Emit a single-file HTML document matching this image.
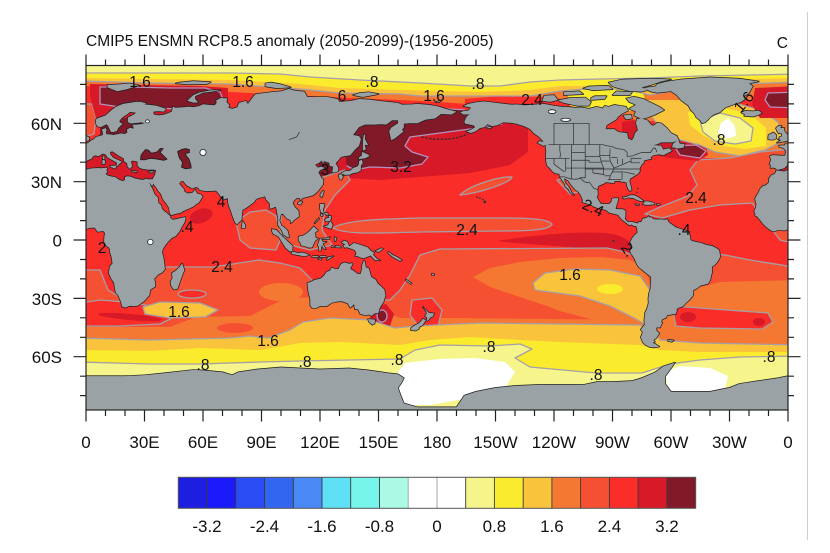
<!DOCTYPE html>
<html><head><meta charset="utf-8"><style>
html,body{margin:0;padding:0;background:#fff;width:830px;height:553px;overflow:hidden}
svg{display:block}
text{font-family:"Liberation Sans",Arial,sans-serif;fill:#111}
.ml{font-size:15.5px;text-anchor:middle}
.ax{font-size:17px}
.r{fill:#fa2d28}.or{fill:#f55032}.o{fill:#f57832}.yo{fill:#fac33c}.y{fill:#faeb2d}.ly{fill:#f5f58c}.dr{fill:#d71928}.dd{fill:#821928}.w{fill:#fff}
.ct{stroke:#a69ea6;stroke-width:1.3;stroke-linejoin:round}
.cl{stroke:#b592bd;stroke-width:1.3;stroke-linejoin:round}
</style></head><body>
<svg width="830" height="553" viewBox="0 0 830 553" xmlns="http://www.w3.org/2000/svg">
<defs>
<clipPath id="mc"><rect x="86" y="65.5" width="702" height="344.5"/></clipPath>
<g id="E">
<polygon points="34.2,31.3 35.5,33.8 35.9,36 34,36.2 32,36.1 29,36.5 27.3,37.2 26.3,38.5 26.5,40.2 24,40.8 23,40.3 23.8,38 22.5,36.5 21.3,37.8 21,39.5 19.5,40.5 19.4,41.9 16.5,43.5 13.7,45.5 12.3,45.3 12.5,44 14,42.3 16,41.4 18.4,40.2 17,39 16,38 15.6,38.3 16,39.5 15,40.2 13,41.3 11,42.5 10.2,43.9 8.5,44.4 6.5,43.1 4.5,43.5 3.1,42.5 3.2,41.9 0.8,41 -0.3,39.5 -0.5,38.3 -2,36.8 -5.5,36 -6.3,36.8 -7.5,37.2 -9,37 -8.8,38.5 -9.5,39 -8.7,41.2 -9.3,43 -8,43.7 -3.8,43.4 -1.5,43.4 -1.2,44.6 -1.2,46 -2.2,47.2 -4.5,47.9 -4.6,48.6 -1.5,48.7 -1.3,49.7 0.2,49.5 1.5,50.2 2.5,51.1 4.2,51.9 5,53 7,53.5 8.6,54 8.6,55.5 8.1,56.8 10,57.6 10.6,56.5 10.2,55.5 10.5,54.4 12.5,54.3 14,54 18,54.8 19.8,54.5 21.2,55.2 21,56.8 22.6,57.7 24.3,57.2 24.3,58.5 23.5,59.2 28,59.5 30,60 28.5,60.5 23,59.9 21.4,60.6 21.5,63 25,64.8 25.5,65.5 22.5,65.8 21,64.5 19,63.3 17.3,61.5 17.2,60.6 18.8,59.8 16.5,57.5 15.9,56.1 14.3,55.5 12.8,55.5 11.8,57.6 11.2,58.9 10.5,59.5 9.5,59 7.5,58 5.8,58.5 5.2,59.6 5,61 5.3,62.3 7,63 10,64 12,65.8 14,67.5 15.5,68.5 17,69.2 19,70 21,70.3 23.5,70.7 25.8,71.1 28,71 31,70.3 30,69.7 33,69.4 36,69.1 41,67.5 40,66 37,66.2 34.5,66 34.8,64.5 37.5,64.1 40.5,64.6 44,66 44.5,68.5 46,68 53,68.5 55,68.3 58,68.8 60,69.8 63,69.5 66,69.3 67,70.5 66.7,71.7 69,73 72.5,72.8 72,71 73.5,69.5 73,68 75,67.5 77.5,68.2 78.5,70.5 82,71.5 83,70 86,74 87,75 95,76 100,76.5 104,77.7 107,76.8 112,76.3 113.5,73.5 118,73.5 124,73.5 129,72.5 130,71 136,71.5 140,72.5 146,72.2 150,71.5 155,71 160,70.5 162,69.6 167,69.7 170,70 176,69.5 180,68.8 185,67.3 190,66 187.5,64.5 182,64.8 179,62.5 174,61.8 170,60 166,60 163,59.8 163,58 162,56.5 163,56 160,53.5 158,52 156.5,51.3 156,53.5 155.5,56 156.5,57.8 160,60 160,61.5 157,61.6 154,59.3 151,59.5 148,59.3 143,59.3 140,58 137,54 140,53.5 141,52 140.5,50 140,48.3 138,46.5 135.5,43.5 132,43 130.5,42.5 129.5,41 128,39.5 129.4,37 129.3,35.3 127,34.6 126.3,35 126.7,37.7 125,38 124.7,39.7 122,40.5 121.6,39 121,40.8 119,39.3 118,39.1 117.6,38.5 119,37.2 120.6,37.8 122.5,37 120,35.8 119.2,34.8 120.6,32.2 121.8,31 121.5,28.5 120,26.5 118.5,24.6 116.5,23 114,22.3 111,21.5 110,20.3 109.7,21.5 108,21.5 106.5,20 106,19 107,17 109,15 109.2,12 107,10.5 105,8.6 104.8,10.3 103,11 102,12.3 100.9,13.5 100,13.2 99.2,10 100.4,7.2 101.3,6.8 103.4,4.8 104.2,1.4 103.5,1.3 101.2,2.8 100.3,5 98.3,8 98.6,10.5 97.8,15.5 97.3,17 94.3,16 94.2,18.8 92.3,20.8 91.8,22.4 90.5,22 88.5,21.6 86.9,20.6 86.5,19.8 84.5,18.2 82.2,16.5 80.3,15.4 80,13 79.8,10.3 78.2,8.9 77.5,8 76.5,8.9 75.3,11.8 74.4,14.6 73.3,17.5 72.8,19.3 72.7,21.5 70.5,20.8 69,22.4 68.2,23.7 67.2,24.8 66.6,25.4 64.5,25.2 61.5,25.1 58.5,25.6 57.3,27 56.3,27.2 54.7,26.5 52,27.8 50.8,29 50,30.2 48.8,30.3 48.2,29.5 47.8,29 48.6,28 49.5,27 50.2,26.2 50.6,24.8 51.6,24.3 52,23.9 54.6,24.3 56,26 56.4,24.9 57.2,23.8 58.8,23.5 59.8,22.3 58.6,20.4 57.8,19.1 56.6,18.5 55.3,17.3 52.2,15.9 49.6,14.7 48.7,14 45.6,13.3 43.5,12.7 42.8,14.6 42.6,16.4 41.2,18.7 39.8,20.4 39.1,21.7 38.5,23.6 37.2,25 36,27 35,28.1 34.6,29.3 34.9,29.5"/>
<polygon points="-6,35.8 -2,35.2 1,36.5 3,36.8 6,37 8,36.9 10,37.2 11,36.8 10.5,36 11,35 10,34 11,33.2 12.5,32.8 15,32.3 17,31 19,30.3 20,31 20,32.3 21,32.8 23,32.6 25,31.7 29,30.9 31,31.5 32.3,31.2 34.2,31.3 34.9,29.5 34,27.8 33.5,28 32.5,29.9 33,28 34,26.5 35,24 35.6,23 36.8,22 37.2,19 38.5,18 39,16 40,15 41.5,13.8 43.3,12.2 43.2,11.5 44.5,10.4 46,10.7 48,11.2 51,11.8 51,10.5 50.5,9 49,6.5 48,4.5 46,2 44,1 42,-1 40.8,-2.5 39.5,-4.5 39,-6.5 39.5,-8 40,-10.5 40.5,-15 39,-16.8 37,-17.8 35,-20 35.5,-22 35.5,-24 33,-25.5 32.8,-26.5 32.5,-28.5 31,-30 30,-31.3 28,-32.8 26.5,-33.8 25,-34 22.5,-33.9 20,-34.8 18.5,-34.2 18.2,-33 18,-32 17.2,-30 16.5,-28.5 15.2,-27 14.5,-23 14.4,-22 13,-20 11.8,-17.3 11.8,-16 12.3,-13.5 13.6,-12 13.2,-9.5 13,-8.5 12.2,-6 12.3,-5 11.8,-4 10.5,-3 9.3,-1.3 9.3,0.3 9.5,2.5 9.8,3.5 9,4.5 8.5,4.5 7,4.4 6,4.2 5,5.5 4.5,6.3 2.5,6.3 1,6 -0.5,5.3 -2,4.8 -3.5,5.1 -5,5.1 -7.5,4.4 -9,5 -10.5,6.2 -11.5,7 -13,8.5 -13.7,9.5 -15,11 -15.5,11.8 -16.8,12.5 -16.8,13.7 -17.4,14.7 -16.5,16.5 -16.2,18.5 -16.5,19.5 -16.9,21.3 -16,23 -15,24.5 -14.5,26 -13,27.7 -11.5,28.1 -10,29.3 -9.7,30.5 -9.8,31.5 -8.5,33.3 -6.8,34 -6.2,35"/>
<polygon points="-5.7,50 1.5,51.2 1.7,52.7 0.3,53.4 -0.5,54.5 -1.6,55.6 -2,57 -1.8,57.6 -4,57.6 -3.2,58.6 -5,58.6 -6.2,57.5 -5.6,56 -4.8,54.8 -3.3,54.9 -3,53.4 -4.5,52.8 -4.2,51.6 -5.2,51.7 -3.5,51.3"/>
<polygon points="-6,52.2 -6,54 -7.5,55.3 -10,54 -10.2,51.8 -8,51.5"/>
<polygon points="-24,65.5 -22,66.4 -18,66.2 -15,66.5 -13.5,65.2 -15,64.3 -18,63.4 -22.5,63.8 -22,64.5"/>
<polygon points="12.4,38.1 15.6,38.3 15.1,36.7 12.5,37.6"/>
<polygon points="8.4,41.2 9.8,40.9 9.6,39.1 8.4,39"/>
<polygon points="8.6,43 9.5,42.9 9.4,41.4 8.6,41.7"/>
<polygon points="23.5,35.6 26.3,35.3 26,34.9 23.6,35.2"/>
<polygon points="32.3,35.1 34.6,35.6 33.9,34.7 32.4,34.7"/>
<polygon points="49.3,-12 50.5,-15.5 49.8,-17 48,-22 47,-25 45,-25.5 43.7,-23.5 43.3,-21.5 44.4,-19.5 44,-17 46,-15.8 48,-13.8"/>
</g>
<g id="L">
<use href="#E"/>
<use href="#E" x="360"/>
<polygon points="11,78.5 16,76.5 21,77.5 27,79.5 22,80.5 17,80 11,79.7"/>
<polygon points="46,80.5 52,80 62,80.2 64,81.2 55,81.7 48,81"/>
<polygon points="52,71.5 55,70.6 57.5,70.7 56,72.5 56,74 60,75.7 66,76.5 69,77 64,77 58,75.8 55,74.5 53,72.7"/>
<polygon points="92,79 98,78 105,78.5 100,80 95,81 92,80.5"/>
<polygon points="137,74.5 142,73.5 150,75 145,76 140,75.5"/>
<polygon points="179,71 182,71.5 181,70.8"/>
<polygon points="79.8,6 80.3,9.8 81.8,7.5 81.5,6.2"/>
<polygon points="130.9,34 132,33.8 135,33.5 136.8,34.3 139,34.7 140.9,35.7 141,38.3 142,39.6 141.4,41.4 140,40.5 140,39.3 139.5,38 137,37 136.7,36.8 135.5,35.6 133,35.5 131,34.4"/>
<polygon points="140,41.5 141.2,41.8 143.3,42 145.5,43.3 144.5,44 141.6,45.4 141.4,43.4 140,42.5"/>
<polygon points="129.7,33.6 131,33.9 131.8,32.5 131,31 130.2,31.2 129.7,32.7"/>
<polygon points="132.3,33.2 134.7,33.8 134.2,34.3 132.7,33.9"/>
<polygon points="142,46 143.5,46.5 143,49 144.7,48.8 143,52 143.2,54 142.5,54.3 142,51.5 142,48.5"/>
<polygon points="120.2,22.5 121,22 122,25 121.5,25.3 120.2,23.5"/>
<polygon points="108.6,19 110,20 111,19.7 110,18.2 108.7,18.5"/>
<polygon points="120,18.5 122.3,18.5 122,17 121.5,15.5 122,14 124,13.8 124,12.6 122.5,13.5 120.6,14.2 120,16"/>
<polygon points="122,7 124,7.5 125.3,9.8 126.5,8 126,6.3 125.5,5.7 124,6.3"/>
<polygon points="122.5,10.5 124,11.5 125.8,11 125,9.8 123,9.5"/>
<polygon points="117.2,8.5 119.5,10.8 119.4,11.3 117.4,9"/>
<polygon points="120.4,13.5 121.5,13 121.2,12.2 120.3,12.6"/>
<polygon points="124.3,12.5 125.7,12.3 125.5,11 124.8,11.3"/>
<polygon points="109,1.5 109.6,2 111,2.1 113,3.2 115,5 116.8,7 117.7,6 119,5 118.5,4.5 117.5,4 117.8,1 119,0.9 117.5,-0.5 116.5,-2.5 116,-3.8 114.5,-4 111.5,-3 110.2,-2.8 110,-1.5 109,-0.3"/>
<polygon points="95.2,5.6 97.5,5.2 100.4,2.2 103.8,-1 106,-3.1 105.8,-5.8 104.5,-5.9 102.3,-4 100.3,-0.8 98.7,1.8 95.9,3.2 95.3,4.9"/>
<polygon points="105.2,-6.8 106,-5.9 108.6,-6.7 111,-6.4 112.6,-6.9 114.6,-7.7 112,-8.4 108.7,-7.8 106.5,-7.4"/>
<polygon points="116,-8.3 119,-8.2 119,-8.8 116,-8.9"/>
<polygon points="120,-8.3 123,-8.2 123,-8.8 120,-8.8"/>
<polygon points="119,-9.5 120.8,-9.6 120.5,-10.2 119,-9.8"/>
<polygon points="124,-9 127,-8.3 125,-9.5 123.5,-10.3"/>
<polygon points="119.5,-5.5 120.4,-5.5 120.9,-2.6 122,-4.5 123,-4.7 121.3,-1.9 123.3,-0.9 121.5,-1 120.6,0.5 124.5,0.4 125.2,1.5 123.5,0.9 120,0.7 119.8,0 118.8,-2.7 119.5,-3.5"/>
<polygon points="128,-3 130.5,-3.3 130.8,-3.9 128,-3.7"/>
<polygon points="126,-3.1 127.2,-3.3 127,-3.8 126,-3.6"/>
<polygon points="127.5,1.5 128.5,1 128,-0.5 127.5,-0.8"/>
<polygon points="131,-1.2 132.5,-0.4 134,-0.9 135,-3.3 137.5,-1.5 141,-2.6 144.5,-3.8 146,-5.5 147.8,-6.5 147.2,-7.6 149,-9.5 150.8,-10.5 148,-10.2 146,-8 143.5,-9 142.5,-9.4 141,-9.1 139,-8.2 138,-8.4 138.7,-6.8 137.8,-5.2 134.5,-4 133.5,-3.7 132.8,-4.1 131.9,-2.8 133,-2.3 131.3,-1.5"/>
<polygon points="148.3,-5.5 150,-5 151.5,-4.2 152.3,-4.5 151,-5.5 150,-6.2"/>
<polygon points="155,-6 157,-7.5 160,-9 162,-10.5 161,-10.8 157,-8.5 155,-6.8"/>
<polygon points="164,-20.2 167,-22.3 166.5,-22.6 164,-20.8"/>
<polygon points="177.3,-17.3 178.5,-17.4 178.5,-18.2 177.3,-18.1"/>
<polygon points="113.5,-22 114,-26.5 115,-30.5 115,-33.6 116,-35 118,-35 120,-34 123.5,-34 126,-32.3 129,-31.6 131.2,-31.5 134.2,-32.6 135.5,-34.8 136,-34.5 137.5,-33 137.8,-35.5 139.5,-35.7 140.6,-38 143.5,-38.8 145,-38.3 146.4,-39.1 148,-37.8 150,-37.5 150.5,-35.3 151.3,-33.8 152.5,-32 153.6,-28.5 153,-25.5 152.5,-25 151,-23.5 149.5,-22.3 148.7,-20.5 146.3,-19 145.3,-15.5 145,-14.5 143.5,-14 143,-11 142.5,-10.7 141.6,-12.8 141.5,-15 140.8,-17.4 139.3,-17.4 137.7,-16.2 135.8,-15 135.5,-14.5 136.8,-12.3 136.5,-11.9 135,-12.2 132.6,-11.5 131,-12.2 130.2,-13.2 129.5,-14.9 128,-15 126,-14.2 125,-15.8 123.3,-16.4 122.2,-18.1 120.5,-19.7 117,-20.6 114.7,-21.8"/>
<polygon points="144.6,-40.7 148.3,-40.9 148,-43 146.8,-43.6 145.2,-42.2"/>
<polygon points="172.7,-34.4 174.6,-36.2 175.9,-37.5 178.5,-37.7 177.9,-39.3 176.9,-39.6 175.2,-41.6 174.6,-41.3 175,-39.9 173.8,-39.2 174.6,-38.1 174.6,-36.9"/>
<polygon points="172.8,-40.5 174.3,-41.2 173.1,-43 172.7,-43.8 171.2,-44.5 170.5,-45.9 169,-46.6 166.5,-46.2 166.8,-45.2 168.3,-44 170.5,-43 172,-41.5"/>
<polygon points="192,65.6 193.5,66.3 196,66.5 197.5,68 193.5,68.9 196,70 200,70.8 204,71.3 208,70.8 212,70.3 218,69.6 221,69.7 225,69.3 228,69.5 232,69.8 235,70 240,69 244,68.5 246,68.5 251,68 254,68.2 258,67.5 262,68.5 265,67.7 266,69 268,68.5 271,69.5 274,69 277,68.5 278,66.5 275,65 273,63.5 272,62 267,59 266.5,57 268,57 271,57 273,55.5 277.5,55 278,52.2 280,51.3 281,53 281.5,55 283,56.5 282.5,58.5 282,60 282.5,62.3 285,62.5 288,61.5 290,59 291,58.8 293,60.3 295,60 298,57.5 300,55 303,53.5 304,51.5 301,50.2 295,50.2 293,49.2 291,48.8 295,48.5 296,46.5 299,47.2 300.5,45.8 296,43.5 294,44 291,43.6 289.5,42.5 290,41.7 286.5,41 286,40.5 286,39.5 285,38.8 284,37 284,35.2 283,34 281,32.7 279,31.5 278.7,30 279.5,27.3 279.8,25.5 279,25.2 278.2,26 277.5,27.5 277.2,29.5 275.8,30 275,29.8 273.5,30.4 271,30.2 270.7,29.1 270,29.3 268.5,29.5 266.5,29.7 265.5,28.9 262.8,27.8 262.3,26 262.5,23.5 262,22 263,20.2 264,18.6 266,18.5 268.5,18.6 269.5,19.8 269.7,21.2 270.7,21.5 273,21.5 272.6,19.5 272.2,18.3 271.6,16 273,15.9 275.5,15.8 276.7,15 276.6,12 276.3,11 277,10 277.9,9.3 279.2,9.4 280.5,9.2 282,8.8 283,8.5 283.5,9.3 284.5,9.2 285,9.7 285.5,11 287,11.3 288.3,11.8 288.5,12.4 289,11.6 290,11.7 291,10.7 293,10.6 295,10.6 297,10.5 298.2,10.7 298.5,9.5 299.5,8.6 300.5,8 302.5,6.5 305,5.7 307,5 308.5,4.5 309,4 309.8,2 310,0 311,-0.5 313,-1 315.5,-1.5 318,-2.5 321,-3 323,-4 324.7,-5.2 325,-7 325.3,-8.5 324.8,-9.5 324,-11 322.5,-12.8 321,-13.8 321,-17 320.5,-18.5 320.2,-20.5 319,-22.5 317,-23 315,-23.5 313.5,-24.8 311.5,-25.8 311.4,-28 311,-29 309.5,-30.7 307.5,-32.5 306.5,-33.7 305.5,-34.4 303.5,-35 302.8,-35.8 303,-36.5 302.5,-38 298,-38.7 297.5,-40 295.5,-40.8 294.9,-42 295.6,-42.5 295,-43.5 294.5,-45 292.5,-45 292.5,-46.5 294,-48 292.5,-50.4 291,-51.5 291.8,-52.3 290.5,-52.8 292,-53.5 294,-54.8 291,-55.3 289,-55 287,-54 285.5,-52.5 284.5,-50 285.5,-47.5 284.5,-46 286.5,-43.5 286.3,-41.5 286.5,-39.5 286.7,-37.5 287.8,-35 288.5,-32.5 288.4,-30 288.7,-27.5 289.5,-25 289.6,-22 289.8,-19 288.5,-18 286,-16 283.5,-14 282.5,-12.5 281,-9 279.5,-7 279,-5.5 279.6,-4.5 279.2,-3 279.8,-2.2 279,-1.2 280,0.8 281.3,2.5 282.8,3.8 282.6,6 282.1,7.2 280.8,7.2 279.8,8 278.6,7.5 277.8,8.2 275.8,9.8 274.3,11 273,12.8 272,13.2 270.5,13.5 268.3,14 266.8,15.3 265.5,15.7 263.8,16 262,16.5 260.3,17.2 258.8,18.2 254.5,19.4 254.8,20.5 253.6,23.2 252.5,24.8 251,25.8 249.1,27.9 247.3,30.5 245.3,31.7 245.3,31 245.7,29.5 247,28 248,26.5 249,24.5 250.3,23.1 248.2,24.5 247.5,26 245.7,27.5 245.8,28.5 244.3,30.5 243,32.5 242.7,34 240.6,34.3 239.2,35.3 237.8,37 236.5,38.2 236,40 235.8,42.5 236,46 235.6,48.4 236.3,49 234.7,50.5 232.3,53 229.5,55 227.8,57 224.8,58.5 220.7,59.8 218,60.2 214,60.5 211,59 208.2,58.5 206,59.5 204.2,58 202,57.5 200,56 197.5,55 195,55.8 197,56.5 199.5,58 199,58.8 197,59.3 194.5,59.8 194,60.8 194.7,62.5 195.5,63.8 196.9,64.5 193.5,64.5 192,65.5"/>
<polygon points="286,78 290,76.2 293,75.7 296,76 300,76.5 303,74.5 305,72 307,70.5 309,69 310,67 312,65 313,63 315,61.5 316,60 317.5,60.5 319,61.8 320,63 322,64.5 325,65.6 328,68.2 333,70 336,71 338,72.5 337.5,74 340,75.5 341,77.5 342,79 340,80.5 345,81.5 335,83 320,83.6 305,82.5 298,81.5 293,80.2 292,79 288,78.5"/>
<polygon points="281,64 285,62.3 288,63 292,64.5 296.5,66.8 294,68.5 290,70.5 286,72.5 281,73.7 277,72.8 278.5,71 282,69.5 278.5,67.5 282,66"/>
<polygon points="279,76.5 285,76.3 288,77 285,78.5 289,79.5 295,81.5 300,82.6 290,83 275,82.5 268,81 270,79 275,77.5"/>
<polygon points="270,74.5 279,74.5 280,76 272,76.5"/>
<polygon points="245,70.5 252,69 258,69 259,71 256,73.3 248,73 242,71.8"/>
<polygon points="234,71.5 238,71 242,72 240,74.5 235,74.2"/>
<polygon points="245,74.5 255,75 253,76.5 245,76"/>
<polygon points="259,72 266,72.5 267,74 261,74 259,73"/>
<polygon points="260,77 270,77.5 268,79.3 258,79 255,78"/>
<polygon points="275.5,64 279.5,64.5 280,62.5 277,62"/>
<polygon points="300.5,47.5 301,49.5 303.8,51.6 304.5,49.5 307,49.5 306.5,47.5 303,47 301.5,47.6"/>
<polygon points="275.1,21.9 277,22.2 279,23 281,23.1 283,22.2 285.8,20.2 284.5,19.9 282.3,20.7 280.5,21.6 278,21.8 276,21.2"/>
<polygon points="286.3,19.8 288.2,19.9 291.5,19 291.5,18.3 288,18 285.5,18.3 286.3,19.2"/>
<polygon points="281.7,18.4 283.7,18.2 283.2,17.8 282,18"/>
<polygon points="292.8,18.5 294.3,18.4 294.2,18 292.8,18"/>
<polygon points="234.5,48.4 236.3,49 235,50.5 232.5,50.8 231.5,50"/>
<polygon points="206,57.3 208,57.8 207,58.4 205.5,57.6"/>
<polygon points="298.5,-51.3 301.5,-51.6 300.5,-52.3 298.5,-52"/>
<polygon points="-2,-70 0,-70 20,-70 30,-69.5 40,-68.5 55,-66.8 60,-67 70,-68 75,-69.5 78,-68 88,-66.5 100,-65.5 110,-66 120,-66.5 135,-66 145,-67 155,-68.5 160,-69 163,-71 162,-73 160,-76 161,-79 163,-84 170,-86 190,-86 194,-80 200,-78 205,-77 210,-76 220,-75 232,-74.5 245,-74.5 255,-74.5 262,-73 270,-73 280,-72.5 285,-71 292,-68 296,-65 302,-63 300,-66 297,-70 297,-74 300,-78 310,-78 320,-78 325,-77 330,-76 335,-74 345,-72.5 355,-71 360,-70 362,-70 362,-95 -2,-95"/>
</g>
</defs>

<rect width="830" height="553" fill="#fff"/>
<line x1="807.5" y1="12" x2="807.5" y2="540" stroke="#cfcfcf" stroke-width="1"/>

<text x="86" y="46" style="font-size:15.5px">CMIP5 ENSMN RCP8.5 anomaly (2050-2099)-(1956-2005)</text>
<text x="788" y="48" style="font-size:15.5px;text-anchor:end">C</text>

<g clip-path="url(#mc)">
<rect x="80" y="60" width="720" height="360" class="r"/>
<!-- N Pacific -->
<polygon class="dr" points="330,150 345,140 360,128 380,118 420,112 470,112 500,114 528,126 528,152 510,165 470,173 420,177 380,180 345,178"/>
<polygon class="dd cl" points="335,108 360,106 400,106 430,108 470,110 497,112 502,124 470,129 440,133 410,137 405,146 412,152 428,157 422,164 400,168 370,167 355,170 345,165 338,150"/>
<polygon class="dr" points="315,158 345,150 348,178 318,182"/>
<polygon class="dd" points="318,160 334,162 332,175 320,176"/>
<path class="or ct" d="M460,195 C470,185 500,176 512,177 C510,183 480,193 460,195 Z"/>
<path class="or ct" d="M333,228 C345,220 380,219 420,218 L500,218 C530,218 548,219 552,224 C550,230 530,231 500,231 L420,232 C380,233 345,235 333,228 Z"/>
<polygon class="or ct" points="557,180 568,178 578,192 570,194"/>
<polygon class="or ct" points="283,200 295,186 320,178 345,170 350,180 335,195 325,210 322,230 332,245 310,250 290,245 280,230"/>
<polygon class="or ct" points="236,222 250,212 266,210 276,216 282,236 276,250 250,248 240,240"/>
<path class="dr" d="M497,241 C530,236 570,231 605,233 C625,235 635,242 640,262 C625,258 605,252 580,248 C550,245 520,244 497,241 Z"/>
<ellipse class="dr" cx="201" cy="216" rx="12" ry="7" transform="rotate(-20 201 216)"/>
<!-- N Atlantic -->
<polygon class="o" points="690,158 705,148 720,140 745,128 760,112 775,100 800,95 800,160 760,152 730,158"/>
<polygon class="or ct" points="645,214 660,207 688,196 697,185 690,170 698,160 730,158 760,152 800,148 800,245 780,240 765,220 752,203 720,205 690,210 662,218"/>
<polygon class="dr" points="640,142 660,138 690,140 706,146 708,155 698,161 670,158 645,153"/>
<polygon class="dd cl" points="674,146 696,145 706,151 700,158 680,155"/>
<polygon class="o" points="615,100 660,100 665,120 640,122 615,112"/>
<polygon class="yo ct" points="640,85 680,88 700,98 735,103 760,110 778,122 785,140 765,150 740,156 715,152 700,145 680,140 662,130 648,112"/>
<polygon class="y" points="688,112 720,107 750,114 766,128 766,146 745,149 724,146 704,136 690,125"/>
<polygon class="ly ct" points="700,121 720,113 740,118 753,128 751,141 735,144 715,141 703,132"/>
<polygon class="w" points="721,123 728,118 735,126 736,136 726,139 718,133"/>
<polygon class="dr" points="622,122 634,120 638,132 632,140 622,136"/>
<!-- Europe seas -->
<polygon class="dr" points="80,148 175,148 175,184 80,184"/>
<polygon class="dr" points="776,158 800,158 800,175 776,175"/>
<polygon class="dd" points="100,110 150,110 150,146 100,146"/>
<polygon class="or ct" points="80,104 92,104 96,118 94,134 80,138"/>
<!-- Arctic -->
<polygon class="o" points="80,60 800,60 800,100 700,100 640,100 560,103 520,108 480,105 440,102 400,100 350,98 310,96 230,92 150,88 80,86"/>
<polygon class="dr" points="90,84 140,85 200,86 228,88 228,118 96,118 92,104 90,96"/>
<polygon class="dd cl" points="100,87 130,87 170,88 205,88 220,92 224,102 215,110 180,109 150,108 120,107 100,104"/>
<polygon class="dr" points="755,88 800,86 800,118 760,118 752,105"/>
<polygon class="dd cl" points="768,93 800,92 800,108 770,107 765,100"/>
<polygon class="r" points="465,99 500,96 550,97 565,100 565,112 465,112"/>
<polygon class="y" points="565,82 640,82 648,110 600,112 570,106"/>
<polygon class="yo ct" points="80,60 800,60 800,82 740,84 700,86 650,95 630,90 600,88 560,91 530,96 480,96 420,96 400,94 340,93 300,89 230,84 150,83 80,81"/>
<polygon class="y" points="80,60 800,60 800,78 700,80 640,86 600,86 560,86 530,90 480,92 440,91 400,90 340,88 300,84 230,80 150,79 80,78"/>
<polygon class="ly ct" points="80,60 800,60 800,74 700,76 650,78 600,79 560,80 530,82 500,86 470,86 420,83 360,80 310,77 280,74 230,73 150,73 80,73"/>
<!-- Southern bands -->
<polygon class="or ct" points="80,270 100,270 108,290 125,300 150,275 163,267 213,267 259,260 280,263 300,268 310,278 330,300 390,300 400,290 410,275 420,255 440,249 607,248 625,252 640,258 660,240 690,250 725,255 750,260 800,268 800,420 80,420"/>
<polygon class="o" points="80,327 170,327 196,317 250,316 286,298 330,297 380,310 400,318 450,318 650,320 655,300 690,290 720,282 800,280 800,420 80,420"/>
<polygon class="r ct" points="80,303 100,300 125,302 145,305 168,311 172,318 160,324 120,326 80,326"/>
<ellipse class="dr" cx="130" cy="317" rx="32" ry="3" transform="rotate(5 130 317)"/>
<polygon class="r ct" points="672,306 700,308 740,311 768,313 773,322 762,329 700,328 676,326"/>
<ellipse class="dr" cx="688" cy="317" rx="8" ry="5"/>
<ellipse class="dr" cx="759" cy="322" rx="6" ry="4"/>
<polygon class="r ct" points="412,300 432,298 442,310 438,326 420,328 410,315"/>
<polygon class="dr" points="368,308 386,304 394,314 390,326 372,325"/>
<ellipse class="dd cl" cx="382" cy="316" rx="5" ry="6"/>
<ellipse class="r ct" cx="192" cy="294" rx="14" ry="4"/>
<ellipse class="o" cx="281" cy="292" rx="22" ry="9"/>
<ellipse class="or" cx="235" cy="328" rx="18" ry="5"/>
<polygon class="yo ct" points="143,307 160,302 200,303 218,310 205,317 170,318 145,314"/>
<polygon class="o" points="473,277 490,268 520,262 560,258 600,257 630,260 645,268 652,290 656,332 620,326 590,319 560,311 547,306 520,297 490,287"/>
<polygon class="yo ct" points="533,283 545,273 575,269 610,270 640,276 650,290 654,330 636,319 610,306 580,296 550,292 535,290"/>
<ellipse class="y" cx="610" cy="289" rx="13" ry="5"/>
<polygon class="yo ct" points="80,338 150,340 230,338 250,336 268,338 290,330 303,322 330,318 370,320 395,328 415,326 480,323 560,324 640,325 655,332 660,340 700,343 800,345 800,420 80,420"/>
<polygon class="y" points="80,350 150,351 200,348 260,350 300,343 340,342 400,345 430,340 470,337 520,340 560,342 640,345 660,350 700,352 800,352 800,420 80,420"/>
<polygon class="ly ct" points="80,362 150,364 200,364 260,362 300,361 350,360 400,359 415,350 440,345 490,346 520,344 532,349 515,358 530,367 596,373 642,373 670,364 700,360 740,357 800,356 800,420 80,420"/>
<polygon class="w" points="398,372 405,363 440,359 475,358 505,362 515,372 505,388 470,398 430,405 398,405"/>
<polygon class="w" points="665,372 680,366 710,368 728,376 724,392 690,396 668,390"/>

<!-- Land -->
<g transform="matrix(1.95 0 0 -1.945 86 240)">
<use href="#L" fill="none" stroke="#1e1e1e" stroke-width="0.75" stroke-linejoin="round"/>
<use href="#L" fill="#9ba2a6"/>
<polygon fill="#821928" stroke="#1e1e1e" stroke-width="0.45" points="28,41.3 28.2,43.5 28.8,44.5 30.5,46.5 32,46.2 33.5,44.6 36.5,45.3 38,47 39.5,47 38,45 41.5,41.6 40,41 36,41.7 33,42 30,41.2"/>
<polygon fill="#821928" stroke="#1e1e1e" stroke-width="0.45" points="47,45.5 49,46.5 51,47 53,46.5 53,45 51,44.5 51.5,43 52.5,42 53,41 53.8,38.5 53.9,37 51,36.6 49,37.5 49.5,40 48,42 47.5,43.5"/>
<g fill="#fff" stroke="#1e1e1e" stroke-width="0.4">
<ellipse cx="60" cy="45" rx="1.6" ry="1.6"/>
<ellipse cx="33" cy="-1" rx="1.4" ry="1.4"/>
<ellipse cx="31.5" cy="61" rx="1" ry="0.8"/>
<ellipse cx="246" cy="61.8" rx="2.5" ry="0.8"/>
<ellipse cx="239" cy="66" rx="2" ry="1"/>
</g>
<g fill="none" stroke="#2a2a2a" stroke-width="0.35">
<polyline points="104,51.6 108,53 109.5,55.5"/>
<polyline points="237.2,49 265,49 267,48.5 270,48 272,47 276,46.5 277.5,45 277.5,43 280.5,43.2 281,43.6 285,45 289.5,45 290.5,46.5 291,47.3 292,47.2 292.8,45.2"/>
<polyline points="235.8,42 248,42"/>
<polyline points="249,49 249,31.3"/>
<polyline points="243,49 243,46 243.3,44 243,42"/>
<polyline points="246,42 246,35.2"/>
<polyline points="240,42 240,39 245.4,35"/>
<polyline points="256,49 256,32 253.5,32 253.5,31.8"/>
<polyline points="245.9,37 265.5,37"/>
<polyline points="249,41 258,41 258,40 264.3,40"/>
<polyline points="249,45 256,45"/>
<polyline points="256,43 263.5,43"/>
<polyline points="263.5,49 263.5,43 264.3,40 265.4,37 265.4,33.6"/>
<polyline points="256,36.5 260,36.5 269.6,36.5 278.3,36.5 284,36.5"/>
<polyline points="265.9,33 268.8,33"/>
<polyline points="269.8,35 275.7,35"/>
<polyline points="267.5,31 272.4,31 274.6,31"/>
<polyline points="268.8,47 268.6,43.5 268.8,40.5 270.8,37 269.9,35 268.8,33 268.5,31"/>
<polyline points="270.8,37 273,37.9 275.2,38.8 277.4,39.8 279.5,40.6"/>
<polyline points="272.5,41.8 272.5,39"/>
<polyline points="275.2,41.7 275.2,39.1"/>
<polyline points="279.5,42 284.9,42"/>
<polyline points="279.5,42 279.5,39.7 284.2,39.7"/>
<polyline points="274.9,35 274.9,31"/>
<polyline points="276,35 281.5,33.8"/>
<polyline points="259.9,36.5 260,34.5 265.9,33.6"/>
<polyline points="263.5,43.5 268.8,43.5"/>
<polyline points="264.3,40.6 268.4,40.6"/>
<polyline points="269.4,42.5 272.5,42.5"/>
<polyline points="242.9,32.5 245.2,32.5 248.9,31.3 251.9,31.3 253.5,31.8 255.5,30 256.8,29.5 258,29.8 259,28.5 260.5,26.5 262.8,25.9"/>
<polyline points="240,49 240,60"/>
<polyline points="250,49 250,60"/>
<polyline points="258,49 258,60"/>
<polyline points="240,60 258,60"/>
<polyline points="172,53 178,51.8 185,51.8 190,52.5 193,53.5 196,54.5" stroke-dasharray="1.2 0.8" stroke-width="0.6"/>
</g>
<g fill="#333">
<ellipse cx="204.5" cy="19.6" rx="0.7" ry="0.7"/>
<ellipse cx="203.5" cy="20.8" rx="0.5" ry="0.4"/>
<ellipse cx="202" cy="21.5" rx="0.5" ry="0.4"/>
<ellipse cx="200.5" cy="22" rx="0.5" ry="0.4"/>
<ellipse cx="270.5" cy="-0.5" rx="0.6" ry="0.5"/>
<ellipse cx="282.5" cy="24.5" rx="0.4" ry="0.4"/>
<ellipse cx="283" cy="26.5" rx="0.4" ry="0.4"/>
</g>
</g>

<!-- contour labels -->
<text class="ml" x="140" y="87">1.6</text>
<text class="ml" x="243" y="87">1.6</text>
<text class="ml" x="372" y="87">.8</text>
<text class="ml" x="342" y="101">6</text>
<text class="ml" x="434" y="101">1.6</text>
<text class="ml" x="478" y="89">.8</text>
<text class="ml" x="532" y="105">2.4</text>
<text class="ml" x="744" y="107" transform="rotate(-50 744 102)">1.6</text>
<text class="ml" x="401" y="172">3.2</text>
<text class="ml" x="325" y="175">3</text>
<text class="ml" x="467" y="235">2.4</text>
<text class="ml" x="593" y="213" transform="rotate(25 593 208)">2.4</text>
<text class="ml" x="628" y="255" transform="rotate(55 628 250)">2.</text>
<text class="ml" x="684" y="235">.4</text>
<text class="ml" x="696" y="203">2.4</text>
<text class="ml" x="719" y="145">.8</text>
<text class="ml" x="102" y="253">2</text>
<text class="ml" x="187" y="232">.4</text>
<text class="ml" x="221" y="207">4</text>
<text class="ml" x="222" y="272">2.4</text>
<text class="ml" x="179" y="317">1.6</text>
<text class="ml" x="268" y="346">1.6</text>
<text class="ml" x="570" y="280">1.6</text>
<text class="ml" x="203" y="370">.8</text>
<text class="ml" x="305" y="367">.8</text>
<text class="ml" x="397" y="365">.8</text>
<text class="ml" x="489" y="352">.8</text>
<text class="ml" x="596" y="380">.8</text>
<text class="ml" x="769" y="362">.8</text>
</g>

<!-- frame -->
<rect x="86" y="65.5" width="702" height="344.5" fill="none" stroke="#222" stroke-width="1.2"/>
<path stroke="#222" stroke-width="1.2" fill="none" d="
M86,65.5V54.5 M105.5,65.5V59.5 M125,65.5V59.5 M144.5,65.5V54.5 M164,65.5V59.5 M183.5,65.5V59.5 M203,65.5V54.5 M222.5,65.5V59.5 M242,65.5V59.5 M261.5,65.5V54.5 M281,65.5V59.5 M300.5,65.5V59.5 M320,65.5V54.5 M339.5,65.5V59.5 M359,65.5V59.5 M378.5,65.5V54.5 M398,65.5V59.5 M417.5,65.5V59.5 M437,65.5V54.5 M456.5,65.5V59.5 M476,65.5V59.5 M495.5,65.5V54.5 M515,65.5V59.5 M534.5,65.5V59.5 M554,65.5V54.5 M573.5,65.5V59.5 M593,65.5V59.5 M612.5,65.5V54.5 M632,65.5V59.5 M651.5,65.5V59.5 M671,65.5V54.5 M690.5,65.5V59.5 M710,65.5V59.5 M729.5,65.5V54.5 M749,65.5V59.5 M768.5,65.5V59.5 M788,65.5V54.5
M86,410V421.5 M105.5,410V416 M125,410V416 M144.5,410V421.5 M164,410V416 M183.5,410V416 M203,410V421.5 M222.5,410V416 M242,410V416 M261.5,410V421.5 M281,410V416 M300.5,410V416 M320,410V421.5 M339.5,410V416 M359,410V416 M378.5,410V421.5 M398,410V416 M417.5,410V416 M437,410V421.5 M456.5,410V416 M476,410V416 M495.5,410V421.5 M515,410V416 M534.5,410V416 M554,410V421.5 M573.5,410V416 M593,410V416 M612.5,410V421.5 M632,410V416 M651.5,410V416 M671,410V421.5 M690.5,410V416 M710,410V416 M729.5,410V421.5 M749,410V416 M768.5,410V416 M788,410V421.5
M86,84.4H80 M86,103.9H80 M86,123.3H73.5 M86,142.8H80 M86,162.2H80 M86,181.7H73.5 M86,201.1H80 M86,220.6H80 M86,240H73.5 M86,259.5H80 M86,278.9H80 M86,298.4H73.5 M86,317.8H80 M86,337.3H80 M86,356.7H73.5 M86,376.2H80 M86,395.6H80
M788,84.4H794 M788,103.9H794 M788,123.3H800.5 M788,142.8H794 M788,162.2H794 M788,181.7H800.5 M788,201.1H794 M788,220.6H794 M788,240H800.5 M788,259.5H794 M788,278.9H794 M788,298.4H800.5 M788,317.8H794 M788,337.3H794 M788,356.7H800.5 M788,376.2H794 M788,395.6H794"/>

<g class="ax" style="text-anchor:end">
<text x="62" y="130">60N</text>
<text x="62" y="188">30N</text>
<text x="62" y="246.5">0</text>
<text x="62" y="305">30S</text>
<text x="62" y="363">60S</text>
</g>
<g class="ax" style="text-anchor:middle">
<text x="86" y="448">0</text>
<text x="144.5" y="448">30E</text>
<text x="203" y="448">60E</text>
<text x="261.5" y="448">90E</text>
<text x="320" y="448">120E</text>
<text x="378.5" y="448">150E</text>
<text x="437" y="448">180</text>
<text x="495.5" y="448">150W</text>
<text x="554" y="448">120W</text>
<text x="612.5" y="448">90W</text>
<text x="671" y="448">60W</text>
<text x="729.5" y="448">30W</text>
<text x="788" y="448">0</text>
</g>

<!-- colorbar -->
<g>
<rect x="178.3" y="477.3" width="28.8" height="31" fill="#1e1ee0"/>
<rect x="207" y="477.3" width="28.8" height="31" fill="#1a1afa"/>
<rect x="235.8" y="477.3" width="28.8" height="31" fill="#2a4cf5"/>
<rect x="264.5" y="477.3" width="28.8" height="31" fill="#3366f0"/>
<rect x="293.3" y="477.3" width="28.8" height="31" fill="#4a88f5"/>
<rect x="322" y="477.3" width="28.8" height="31" fill="#60e0f5"/>
<rect x="350.7" y="477.3" width="28.8" height="31" fill="#78f5eb"/>
<rect x="379.5" y="477.3" width="28.8" height="31" fill="#aafae6"/>
<rect x="408.2" y="477.3" width="28.8" height="31" fill="#ffffff"/>
<rect x="437" y="477.3" width="28.8" height="31" fill="#ffffff"/>
<rect x="465.7" y="477.3" width="28.8" height="31" fill="#f5f58c"/>
<rect x="494.4" y="477.3" width="28.8" height="31" fill="#faeb2d"/>
<rect x="523.2" y="477.3" width="28.8" height="31" fill="#fac33c"/>
<rect x="551.9" y="477.3" width="28.8" height="31" fill="#f57832"/>
<rect x="580.6" y="477.3" width="28.8" height="31" fill="#f55032"/>
<rect x="609.4" y="477.3" width="28.8" height="31" fill="#fa2d28"/>
<rect x="638.1" y="477.3" width="28.8" height="31" fill="#d71928"/>
<rect x="666.9" y="477.3" width="28.8" height="31" fill="#821928"/>
<path stroke="#3a3a3a" stroke-width="0.9" d="M207,477.3V508.3 M235.8,477.3V508.3 M264.5,477.3V508.3 M293.3,477.3V508.3 M322,477.3V508.3 M350.7,477.3V508.3 M379.5,477.3V508.3 M465.7,477.3V508.3 M494.4,477.3V508.3 M523.2,477.3V508.3 M551.9,477.3V508.3 M580.6,477.3V508.3 M609.4,477.3V508.3 M638.1,477.3V508.3 M666.9,477.3V508.3"/>
<path stroke="#9aa0a0" stroke-width="0.9" d="M408.2,477.3V508.3 M437,477.3V508.3"/>
<rect x="178.3" y="477.3" width="517.4" height="31" fill="none" stroke="#555" stroke-width="1"/>
</g>
<g class="ax" style="text-anchor:middle">
<text x="207" y="532">-3.2</text>
<text x="264.5" y="532">-2.4</text>
<text x="322" y="532">-1.6</text>
<text x="379.5" y="532">-0.8</text>
<text x="437" y="532">0</text>
<text x="494.4" y="532">0.8</text>
<text x="551.9" y="532">1.6</text>
<text x="609.4" y="532">2.4</text>
<text x="666.9" y="532">3.2</text>
</g>
</svg>
</body></html>
